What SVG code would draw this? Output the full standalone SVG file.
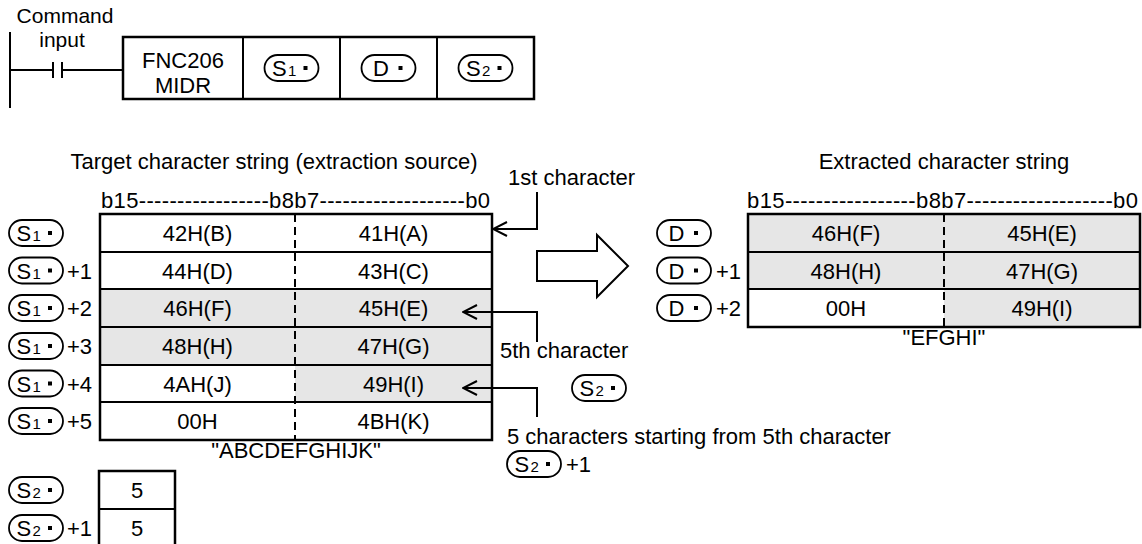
<svg xmlns="http://www.w3.org/2000/svg" width="1142" height="544" viewBox="0 0 1142 544">
<style>
.t{font-family:"Liberation Sans",Arial,sans-serif;font-size:22px;fill:#000}
.lb{font-family:"Liberation Sans",Arial,sans-serif;font-size:21px;fill:#000}
.s{font-family:"Liberation Sans",Arial,sans-serif;font-size:15px;fill:#000}
.c{text-anchor:middle}
.ln{stroke:#000;stroke-width:2;fill:none}
.bx{stroke:#000;stroke-width:2.5;fill:none}
.g{fill:#e6e6e6;stroke:none}
.ov{fill:#fff;stroke:#000;stroke-width:1.8}
.dash{stroke:#000;stroke-width:2;stroke-dasharray:8 5}
.hol{fill:#fff;stroke:#000;stroke-width:2}
</style>
<defs>
<marker id="ah" viewBox="0 0 16 16" refX="15" refY="8" markerWidth="16" markerHeight="16" markerUnits="userSpaceOnUse" orient="auto">
<path d="M1,1 L15,8 L1,15" fill="none" stroke="#000" stroke-width="2"/>
</marker>
</defs>

<g id="ladder">
<path class="ln" d="M10,32 V108 M10,70 H53 M53,62 V78 M62,62 V78 M62,70 H123"/>
<rect class="bx" x="123" y="37" width="411" height="62"/>
<path class="ln" d="M243,37 V99 M340,37 V99 M437,37 V99"/>
<text class="lb c" x="65" y="23">Command</text>
<text class="lb c" x="62" y="47">input</text>
<text class="t c" x="183" y="68">FNC206</text>
<text class="t c" x="183" y="93">MIDR</text>
<rect class="ov" x="264.5" y="55" width="54" height="26" rx="13"/>
<text class="t" x="272" y="76">S</text><text class="s" x="288" y="76">1</text><rect x="303.5" y="66" width="4" height="4"/>
<rect class="ov" x="361.5" y="55" width="54" height="26" rx="13"/>
<text class="t" x="373" y="76">D</text><rect x="398.5" y="66" width="4" height="4"/>
<rect class="ov" x="458.5" y="55" width="54" height="26" rx="13"/>
<text class="t" x="466" y="76">S</text><text class="s" x="482" y="76">2</text><rect x="497.5" y="66" width="4" height="4"/>
</g>

<g id="source-table">
<text class="t c" x="274" y="169">Target character string (extraction source)</text>
<text class="t" x="101" y="208" textLength="389" lengthAdjust="spacing">b15-----------------b8b7-------------------b0</text>
<rect class="g" x="100" y="289" width="392" height="76"/>
<rect class="g" x="295" y="365" width="197" height="37"/>
<rect class="bx" x="100" y="214" width="392" height="226"/>
<path class="ln" d="M100,252 H492 M100,289 H492 M100,327 H492 M100,365 H492 M100,402 H492"/>
<path class="dash" d="M295,214 V440"/>
<text class="t c" x="197.5" y="241">42H(B)</text><text class="t c" x="393.5" y="241">41H(A)</text>
<text class="t c" x="197.5" y="278.5">44H(D)</text><text class="t c" x="393.5" y="278.5">43H(C)</text>
<text class="t c" x="197.5" y="316">46H(F)</text><text class="t c" x="393.5" y="316">45H(E)</text>
<text class="t c" x="197.5" y="354">48H(H)</text><text class="t c" x="393.5" y="354">47H(G)</text>
<text class="t c" x="197.5" y="391.5">4AH(J)</text><text class="t c" x="393.5" y="391.5">49H(I)</text>
<text class="t c" x="197.5" y="429">00H</text><text class="t c" x="393.5" y="429">4BH(K)</text>
<text class="t c" x="296" y="458">"ABCDEFGHIJK"</text>
</g>

<g id="source-labels">
<rect class="ov" x="9" y="220" width="54" height="26" rx="13"/><text class="t" x="16.5" y="241">S</text><text class="s" x="32.5" y="241">1</text><rect x="48" y="231" width="4" height="4"/>
<rect class="ov" x="9" y="257.5" width="54" height="26" rx="13"/><text class="t" x="16.5" y="278.5">S</text><text class="s" x="32.5" y="278.5">1</text><rect x="48" y="268.5" width="4" height="4"/><text class="t" x="67" y="278.5">+1</text>
<rect class="ov" x="9" y="295" width="54" height="26" rx="13"/><text class="t" x="16.5" y="316">S</text><text class="s" x="32.5" y="316">1</text><rect x="48" y="306" width="4" height="4"/><text class="t" x="67" y="316">+2</text>
<rect class="ov" x="9" y="333" width="54" height="26" rx="13"/><text class="t" x="16.5" y="354">S</text><text class="s" x="32.5" y="354">1</text><rect x="48" y="344" width="4" height="4"/><text class="t" x="67" y="354">+3</text>
<rect class="ov" x="9" y="370.5" width="54" height="26" rx="13"/><text class="t" x="16.5" y="391.5">S</text><text class="s" x="32.5" y="391.5">1</text><rect x="48" y="381.5" width="4" height="4"/><text class="t" x="67" y="391.5">+4</text>
<rect class="ov" x="9" y="408" width="54" height="26" rx="13"/><text class="t" x="16.5" y="429">S</text><text class="s" x="32.5" y="429">1</text><rect x="48" y="419" width="4" height="4"/><text class="t" x="67" y="429">+5</text>
</g>

<g id="s2-table">
<rect class="bx" x="99" y="471" width="76" height="80"/>
<path class="ln" d="M99,509 H175"/>
<text class="t c" x="137" y="498">5</text>
<text class="t c" x="137" y="536">5</text>
<rect class="ov" x="9" y="477" width="54" height="26" rx="13"/><text class="t" x="16.5" y="498">S</text><text class="s" x="32.5" y="498">2</text><rect x="48" y="488" width="4" height="4"/>
<rect class="ov" x="9" y="515" width="54" height="26" rx="13"/><text class="t" x="16.5" y="536">S</text><text class="s" x="32.5" y="536">2</text><rect x="48" y="526" width="4" height="4"/><text class="t" x="67" y="536">+1</text>
</g>

<g id="dest-table">
<text class="t c" x="944" y="169">Extracted character string</text>
<text class="t" x="747" y="208" textLength="391" lengthAdjust="spacing">b15-----------------b8b7-------------------b0</text>
<rect class="g" x="748" y="214" width="392" height="75"/>
<rect class="g" x="944" y="289" width="196" height="38"/>
<rect class="bx" x="748" y="214" width="392" height="113"/>
<path class="ln" d="M748,252 H1140 M748,289 H1140"/>
<path class="dash" d="M944,214 V327"/>
<text class="t c" x="846" y="241">46H(F)</text><text class="t c" x="1042" y="241">45H(E)</text>
<text class="t c" x="846" y="278.5">48H(H)</text><text class="t c" x="1042" y="278.5">47H(G)</text>
<text class="t c" x="846" y="316">00H</text><text class="t c" x="1042" y="316">49H(I)</text>
<text class="t c" x="944" y="345">"EFGHI"</text>
</g>

<g id="dest-labels">
<rect class="ov" x="657" y="220" width="54" height="26" rx="13"/><text class="t" x="668.5" y="241">D</text><rect x="694" y="231" width="4" height="4"/>
<rect class="ov" x="657" y="257.5" width="54" height="26" rx="13"/><text class="t" x="668.5" y="278.5">D</text><rect x="694" y="268.5" width="4" height="4"/><text class="t" x="716" y="278.5">+1</text>
<rect class="ov" x="657" y="295" width="54" height="26" rx="13"/><text class="t" x="668.5" y="316">D</text><rect x="694" y="306" width="4" height="4"/><text class="t" x="716" y="316">+2</text>
</g>

<g id="annotations">
<text class="t" x="508" y="185">1st character</text>
<text class="t" x="500" y="358">5th character</text>
<rect class="ov" x="572" y="375" width="54" height="26" rx="13"/><text class="t" x="579.5" y="396">S</text><text class="s" x="595.5" y="396">2</text><rect x="611" y="386" width="4" height="4"/>
<text class="t" x="507" y="444">5 characters starting from 5th character</text>
<rect class="ov" x="507" y="451" width="54" height="26" rx="13"/><text class="t" x="514.5" y="472">S</text><text class="s" x="530.5" y="472">2</text><rect x="546" y="462" width="4" height="4"/><text class="t" x="566" y="472">+1</text>
</g>

<g id="connectors">
<path class="ln" d="M537,192 V229 H493" marker-end="url(#ah)"/>
<path class="ln" d="M537,342 V312 H463" marker-end="url(#ah)"/>
<path class="ln" d="M537,417 V388 H463" marker-end="url(#ah)"/>
<path class="hol" d="M537,251 H597 V235 L628,266 L597,297 V281 H537 Z"/>
</g>
</svg>
